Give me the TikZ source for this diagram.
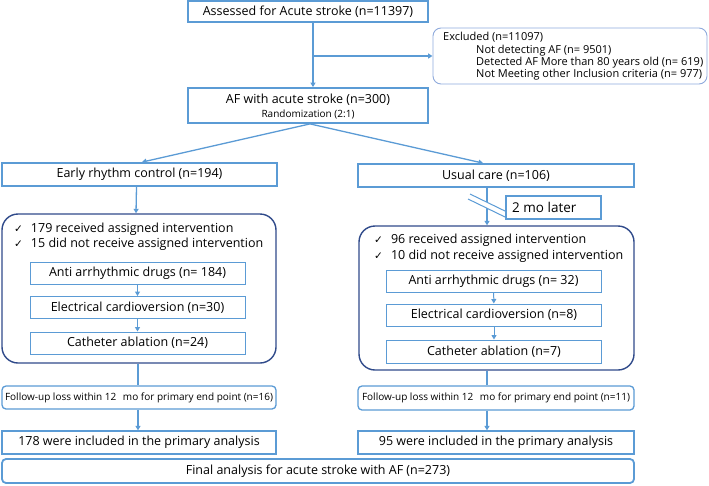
\documentclass[tikz,border=0pt]{standalone}
\usepackage{fontspec}
\setmainfont{Open Sans}
\newfontfamily\symf{DejaVu Sans}
\usetikzlibrary{arrows.meta}
\definecolor{lb}{HTML}{5B9BD5}
\definecolor{nv}{HTML}{2F4A8A}
\definecolor{gb}{HTML}{8FAADC}
\newcommand{\mainf}{\fontsize{12.5}{14}\selectfont}
\newcommand{\smf}{\fontsize{10}{12}\selectfont}
\newcommand{\ck}{{\symf\fontsize{10.5}{11}\selectfont ✓}\hspace{8pt}}
\tikzset{
  box/.style={draw=lb, line width=1.8pt, fill=white, inner sep=0pt, align=center, font=\mainf},
  thinbox/.style={draw=lb, line width=1pt, fill=white, inner sep=0pt, align=center, font=\mainf},
  midbox/.style={draw=lb, line width=1.3pt, fill=white, inner sep=0pt, align=center, font=\mainf},
  smallrbox/.style={draw=lb, line width=1.3pt, rounded corners=4pt, fill=white, inner sep=0pt, align=center, font=\smf},
  bigbox/.style={draw=nv, line width=1.4pt, rounded corners=16pt, inner sep=0pt},
  arr/.style={draw=lb, line width=1.3pt, -{Triangle[length=4.5pt,width=5pt]}},
  ln/.style={draw=lb, line width=1.3pt},
  txt/.style={inner sep=0pt, anchor=west, font=\mainf},
  extxt/.style={inner sep=0pt, anchor=west, font=\fontsize{11}{12}\selectfont},
}
\begin{document}
\begin{tikzpicture}[x=1pt,y=-1pt]
\useasboundingbox (0,0) rectangle (709,485);
% top
\node[box, minimum width=240pt, minimum height=21pt] (top) at (308,11.5) {Assessed for Acute stroke (n=11397)};
\node[box, minimum width=240pt, minimum height=35pt] (af) at (308,105.5) {};
\node[inner sep=0pt, font=\mainf] (aft) at (308,99.5) {AF with acute stroke (n=300)};
\node[inner sep=0pt, font=\smf] (rand) at (308,114) {Randomization (2:1)};
\node[draw=gb, line width=0.9pt, rounded corners=8pt, minimum width=274pt, minimum height=56pt, inner sep=0pt] (ex) at (570,56) {};
\node[extxt] (ex1) at (443,37) {Excluded (n=11097)};
\node[extxt] (ex2) at (476,50.5) {Not detecting AF (n= 9501)};
\node[extxt] (ex3) at (476,63) {Detected AF More than 80 years old (n= 619)};
\node[extxt] (ex4) at (476,74.5) {Not Meeting other Inclusion criteria (n= 977)};
\draw[arr] ([xshift=5pt]top.south) -- ([xshift=5pt]af.north);
\coordinate (br) at (313,56);
\draw[arr] (br) -- (ex.west);
% groups
\node[box, minimum width=275pt, minimum height=23pt] (early) at (139.5,174.5) {Early rhythm control (n=194)};
\node[box, minimum width=276pt, minimum height=23pt] (usual) at (496,175.5) {Usual care (n=106)};
\draw[arr] ([xshift=2pt]af.south) -- ([xshift=2.5pt]early.north);
\draw[arr] ([xshift=2pt]af.south) -- ([xshift=-13pt]usual.north);
% left big box
\node[bigbox, minimum width=274pt, minimum height=149pt] (bl) at (139,288.5) {};
\node[txt] (cl1) at (14,229) {\ck 179 received assigned intervention};
\node[txt] (cl2) at (14,244) {\ck 15 did not receive assigned intervention};
\node[thinbox, minimum width=215pt, minimum height=22pt] (al) at (137.5,273) {Anti arrhythmic drugs (n= 184)};
\node[thinbox, minimum width=215pt, minimum height=22pt] (el) at (137.5,307.5) {Electrical cardioversion (n=30)};
\node[thinbox, minimum width=215pt, minimum height=22pt] (cal) at (137.5,343) {Catheter ablation (n=24)};
\draw[arr] ([xshift=-3pt]early.south) -- ([xshift=-3pt]bl.north);
\draw[arr, line width=1pt] (al) -- (el);
\draw[arr, line width=1pt] (el) -- (cal);
% right big box
\node[bigbox, minimum width=275pt, minimum height=144pt] (bri) at (496.5,298) {};
\node[txt] (cr1) at (374,240) {\ck 96 received assigned intervention};
\node[txt] (cr2) at (374,256) {\ck 10 did not receive assigned intervention};
\node[thinbox, minimum width=215pt, minimum height=22pt] (ar) at (493.5,281) {Anti arrhythmic drugs (n= 32)};
\node[thinbox, minimum width=215pt, minimum height=22pt] (er) at (494,315) {Electrical cardioversion (n=8)};
\node[thinbox, minimum width=215pt, minimum height=23pt] (car) at (494,351.5) {Catheter ablation (n=7)};
\draw[arr] ([xshift=-9pt]usual.south) -- ([xshift=-9.5pt]bri.north);
\draw[arr, line width=1pt] (ar) -- (er);
\draw[arr, line width=1pt] (er) -- (car);
% break mark
\coordinate (s1a) at (470,194);
\coordinate (s1b) at (507,212);
\coordinate (s2a) at (468,199);
\coordinate (s2b) at (505,217);
\fill[white] (s1a) -- (s1b) -- (s2b) -- (s2a) -- cycle;
\draw[lb, line width=1pt] (s1a) -- (s1b);
\draw[lb, line width=1pt] (s2a) -- (s2b);
\node[box, line width=1.5pt, minimum width=95pt, minimum height=23pt] (mo) at (553.5,207.5) {};
\node[txt, font=\fontsize{13.5}{15}\selectfont] (mot) at (512,207.5) {2 mo later};
% follow-up
\node[smallrbox, minimum width=274pt, minimum height=23pt] (fl) at (139,397.5) {Follow-up loss within 12\hspace{4pt} mo for primary end point (n=16)};
\node[smallrbox, minimum width=276pt, minimum height=24pt] (fr) at (496,398) {Follow-up loss within 12\hspace{4pt} mo for primary end point (n=11)};
\draw[ln] ([xshift=-1pt]bl.south) -- ([xshift=-1pt]fl.north);
\draw[ln] ([xshift=-9.5pt]bri.south) -- ([xshift=-9pt]fr.north);
\node[midbox, minimum width=274pt, minimum height=23pt] (il) at (139,442.5) {178 were included in the primary analysis};
\node[midbox, minimum width=276pt, minimum height=23pt] (ir) at (496,442.5) {95 were included in the primary analysis};
\draw[arr] ([xshift=-1pt]fl.south) -- ([xshift=-1pt]il.north);
\draw[arr] ([xshift=-9pt]fr.south) -- ([xshift=-9pt]ir.north);
\node[box, rounded corners=4pt, minimum width=632pt, minimum height=24pt] (fin) at (318,471) {Final analysis for acute stroke with AF (n=273)};
\end{tikzpicture}
\end{document}
